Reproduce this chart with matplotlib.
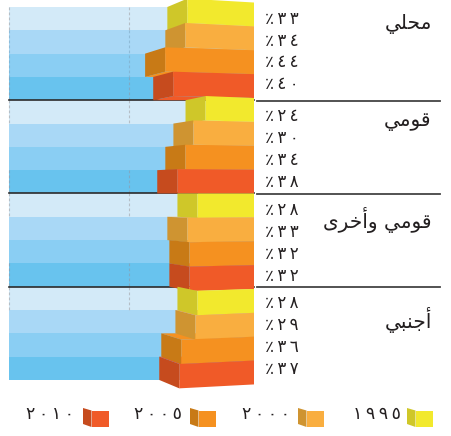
import numpy as np
import matplotlib
matplotlib.use('Agg')
from matplotlib import pyplot as plt
from matplotlib.patches import Polygon, Rectangle

W, H = 451, 436

groups = ['محلي', 'قومي', 'قومي وأخرى', 'أجنبي']
years = ['١٩٩٥', '٢٠٠٠', '٢٠٠٥', '٢٠١٠']
values = [33, 34, 44, 40,
          24, 30, 34, 38,
          28, 33, 32, 32,
          28, 29, 36, 37]

# matplotlib does not shape arabic, so labels are written as presentation forms in drawing order
shaped = {
    'محلي': '\ufef2\ufee0\ufea4\ufee3',
    'قومي': '\ufef2\ufee3\ufeee\ufed7',
    'قومي وأخرى': '\ufeef\ufeae\ufea7\ufe83\ufeed \ufef2\ufee3\ufeee\ufed7',
    'أجنبي': '\ufef2\ufe92\ufee8\ufe9f\ufe83',
}

blues = ['#D3EAF8', '#A9D8F6', '#8ACEF3', '#68C3EE']
fronts = ['#F2E92D', '#F9AE40', '#F59120', '#F05A28']
sides = ['#CFC729', '#CF9431', '#C87A16', '#C64B1E']

PX_PER_UNIT = 2.02
ZERO_PX = 254
ROW_PX = 23.31
TOP_PX = 7
DEPTH = 9.9
FULL = 121.3
MID = 61.7

# the labels are not evenly spaced in the source
value_start = [0.5, 0.68, 0.7, 0.7]
value_step = 0.94
group_label_row = [0.75, 0.92, 1.14, 1.44]
THIN = '\u2009'


def to_arabic(n):
    return str(n).translate(str.maketrans('0123456789', '٠١٢٣٤٥٦٧٨٩'))


def front_left(r):
    return r + (r - 8) * 0.045


def front_right(r):
    return r + (r - 8) * 0.024


fig = plt.figure(figsize=(W / 100, H / 100), dpi=100)
ax = fig.add_axes([0, 0, 1, 1])
ax.set_xlim(ZERO_PX / PX_PER_UNIT, -(W - ZERO_PX) / PX_PER_UNIT)
ax.set_ylim((H - TOP_PX) / ROW_PX, -TOP_PX / ROW_PX)
ax.axis('off')

# layer for things placed by pixel (legend)
pix = fig.add_axes([0, 0, 1, 1])
pix.set_xlim(0, W)
pix.set_ylim(H, 0)
pix.axis('off')
pix.patch.set_alpha(0)

rows = np.arange(len(values))

# back wall
for r, v in zip(rows, values):
    ax.add_patch(Rectangle((0, r), FULL, 1, fc=blues[r % 4], ec='none', zorder=1))

for x in [FULL, MID]:
    for g in range(4):
        ax.plot([x, x], [g * 4, g * 4 + 1], color='#B5BEC6', lw=0.8, ls=(0, (2.5, 2)), zorder=2)
        if g < 3:
            ax.plot([x, x], [g * 4 + 3, g * 4 + 4], color='#7FA9C4', lw=0.8, ls=(0, (2.5, 2)), zorder=2)
    # only faintly visible through the middle bands of the first group
    ax.plot([x, x], [1, 3], color='#7FA9C4', lw=0.8, ls=(0, (2.5, 2)), alpha=0.6, zorder=2)

for g in range(1, 4):
    ax.plot([FULL, 0], [g * 4, g * 4], color='#2B2B2B', lw=1.2, zorder=3)
    ax.plot([-1.5, -92], [g * 4 + 0.03, g * 4 + 0.03], color='#444444', lw=1.3, zorder=3)

# top and bottom faces sit under every front
for r, v in zip(rows, values):
    c = r % 4
    edge = r if r >= 8 else r + 1
    ax.add_patch(Polygon([(v + DEPTH, edge), (v, front_left(edge)), (0, front_right(edge)), (0, edge)],
                         fc=fronts[c], ec='none', zorder=4))

for r, v in zip(rows, values):
    c = r % 4
    b = r + 1
    ax.add_patch(Polygon([(v + DEPTH, r), (v, front_left(r)), (v, front_left(b)), (v + DEPTH, b)],
                         fc=sides[c], ec='none', zorder=5 + r * 0.1))
    ax.add_patch(Polygon([(v, front_left(r)), (0, front_right(r)), (0, front_right(b)), (v, front_left(b))],
                         fc=fronts[c], ec='none', zorder=5 + r * 0.1))
    g = r // 4
    ax.text(-5.2, g * 4 + value_start[g] + (r % 4) * value_step,
            '٪' + THIN + THIN.join(to_arabic(v)), fontsize=12, color='#231F20',
            ha='left', va='center', zorder=9)

for g, name in enumerate(groups):
    ax.text(-88, g * 4 + group_label_row[g], shaped[name], fontsize=14.5, color='#231F20',
            ha='right', va='center', zorder=9)

# legend
legend_side_x = [407, 298, 190, 83]
legend_text_x = [401, 290, 182, 74]
for i, year in enumerate(years):
    x = legend_side_x[i]
    pix.add_patch(Polygon([(x, 408), (x + 8.5, 410.5), (x + 8.5, 427), (x, 424)],
                          fc=sides[i], ec='none'))
    pix.add_patch(Rectangle((x + 8.5, 410.5), 17, 16.5, fc=fronts[i], ec='none'))
    pix.text(legend_text_x[i], 414, THIN.join(year), fontsize=12.5, color='#231F20',
             ha='right', va='center')

fig.savefig('out.png', dpi=100)
